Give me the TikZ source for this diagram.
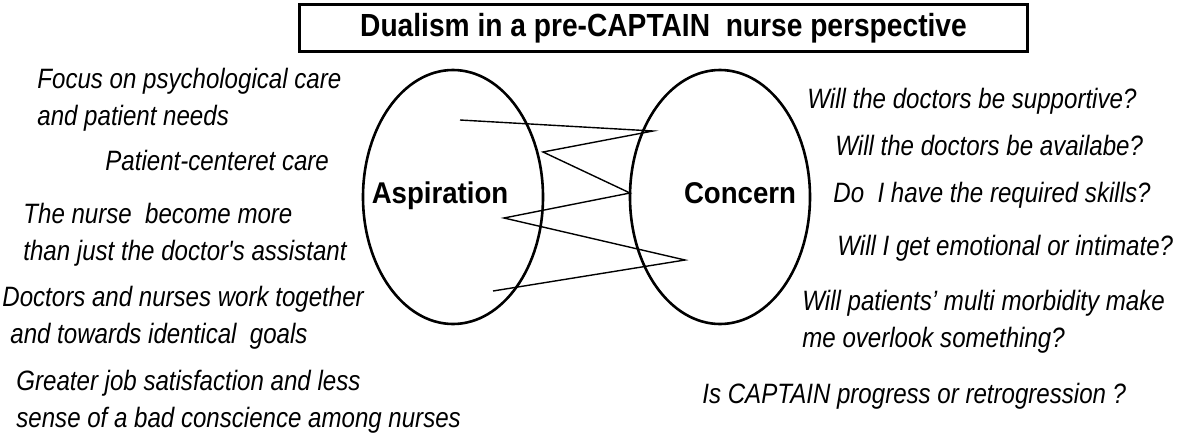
\documentclass[tikz,border=0pt]{standalone}
\usepackage{fontspec}
\usepackage{tikz}
\usetikzlibrary{positioning, calc, shapes}
\newfontfamily\itemfont{Liberation Sans}[FakeStretch=0.86]
\newfontfamily\headfont{Liberation Sans}[FakeStretch=0.88]
\newfontfamily\circfont{Liberation Sans}[FakeStretch=0.92]

\begin{document}
\begin{tikzpicture}[x=1pt, y=-1pt, node distance=267pt, on grid,
			circ/.style={draw, ellipse, line width=2.6pt, inner sep=0pt, minimum width=180pt, minimum height=254pt},
			item/.style={anchor=base west, align=left, inner sep=0pt, font=\itemfont\itshape\fontsize{28}{37}\selectfont},
			lbl/.style={anchor=base, inner sep=0pt, font=\circfont\bfseries\fontsize{30}{36}\selectfont},
			thick ]
			\useasboundingbox (0,0) rectangle (1181,442);
			\node[draw, line width=2.8pt, minimum width=728pt, minimum height=47pt, inner sep=0pt,
				font=\headfont\bfseries\fontsize{32}{38}\selectfont] (title) at (663.5,28) {Dualism in a pre-CAPTAIN\ \ nurse perspective};
			\node[circ] (asp)               at (453,197) {};
			\node[circ] (con) [right=of asp] {};
			\node[lbl]  (asplbl) at (440,203) {Aspiration};
			\node[lbl]  (conlbl) at (740,203) {Concern};
			
			%Aspirations (base = last line)
			\node[item] (a1) at (37,125)  {Focus on psychological care\\and patient needs};
			\node[item] (a2) at (105,170) {Patient-centeret care};
			\node[item] (a3) at (23,260)  {The nurse\ \ become more\\than just the doctor's assistant};
			\node[item] (a4) at (2,343)   {Doctors and nurses work together\\\hspace{8pt}and towards identical\ \ goals};
			\node[item] (a5) at (16,427)  {Greater job satisfaction and less\\sense of a bad conscience among nurses};
			
			%Concerns
			\node[item] (c1) at (807,108) {Will the doctors be supportive?};
			\node[item] (c2) at (835,155) {Will the doctors be availabe?};
			\node[item] (c3) at (833,202) {Do\ \ I have the required skills?};
			\node[item] (c4) at (837,255) {Will I get emotional or intimate?};
			\node[item] (c5) at (802,347) {Will patients’ multi morbidity make\\me overlook something?};
			\node[item] (c6) at (702,403) {Is CAPTAIN progress or retrogression ?};
			
			%zigzag
			\coordinate (z1) at (460,120);
			\coordinate (z2) at (653,131);
			\coordinate (z3) at (543,152);
			\coordinate (z4) at (630,193);
			\coordinate (z5) at (504,218);
			\coordinate (z6) at (685,260);
			\coordinate (z7) at (493,291);
			\draw[line width=1.4pt] (z1) -- (z2) -- (z3) -- (z4) -- (z5) -- (z6) -- (z7);
		\end{tikzpicture}
\end{document}
